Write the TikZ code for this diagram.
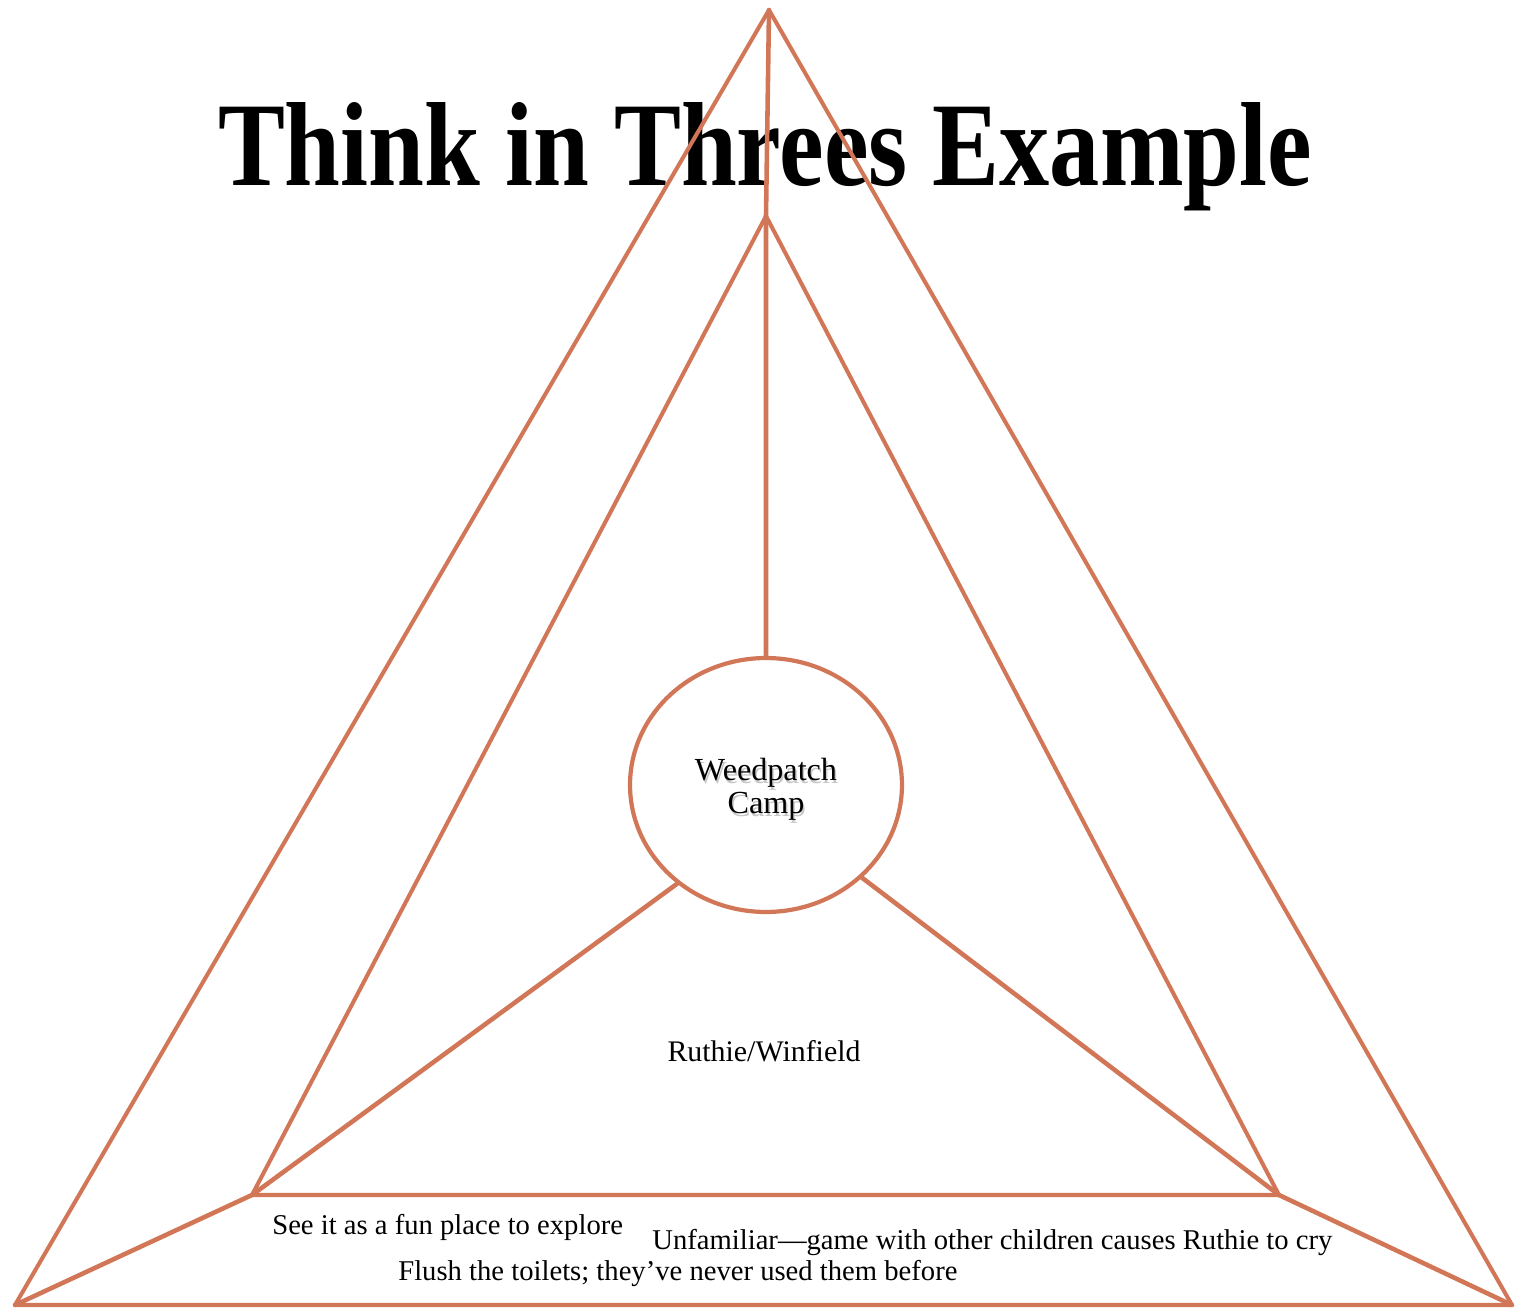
\documentclass[tikz,border=0pt]{standalone}
\usepackage{fontspec}
\setmainfont{Liberation Serif}
\usetikzlibrary{shapes.geometric}
\definecolor{mattone}{RGB}{210,118,88}

\begin{document}
\begin{tikzpicture}[
		x=0.02cm, y=-0.02cm,
		lato/.style={line width=2.3pt, line cap=round, line join=round, draw=mattone},
		raggio/.style={line width=2.6pt, line cap=round, line join=round, draw=mattone},
		centro/.style={ellipse, draw=mattone, line width=2.4pt,
			minimum width=5.44cm, minimum height=5.08cm, inner sep=0pt},
		titolo/.style={inner sep=0pt, anchor=base},
		etich/.style={font=\fontsize{17}{20}\selectfont, inner sep=0pt},
		nota/.style={font=\fontsize{16.3}{19}\selectfont, inner sep=0pt, anchor=west},
		campf/.style={font=\fontsize{18.3}{18.8}\selectfont, align=center},
		ombra/.style={campf, inner sep=0pt, text=black!22},
		]
		\useasboundingbox (0,0) rectangle (1519,1311);
		
		%% titolo (le aste passano sopra)
		\node[titolo] (tit) at (765,186)
		{\resizebox{21.88cm}{1.66cm}{\bfseries Think in Threes Example}};
		
		%% vertici dei due triangoli ----------------------------
		\coordinate (oT) at (769,10);
		\coordinate (oL) at (15,1305);
		\coordinate (oR) at (1512,1305);
		\coordinate (iT) at (766,216);
		\coordinate (iL) at (252,1195);
		\coordinate (iR) at (1279,1195);
		
		%% cerchio centrale
		\node[ombra] (ombraC) at (767.5,792) {Weedpatch\\Camp};
		\node[centro, campf] (camp) at (766,785) {};
		\node[campf, inner sep=0pt] (campT) at (766,789) {Weedpatch\\Camp};
		
		%% triangoli
		\draw[lato] (oT)--(oL)--(oR)--cycle;
		\draw[lato] (iT)--(iL)--(iR)--cycle;
		
		%% raggi: esterno -> interno -> cerchio
		\draw[raggio] (oT)--(iT)--(camp.north);
		\draw[raggio] (oL)--(iL)--(camp.228);
		\draw[raggio] (oR)--(iR)--(camp.316);
		
		%% etichette
		\node[etich] (ruth) at (764,1051) {Ruthie/Winfield};
		\node[nota] (esplora) at (272,1227) {See it as a fun place to explore};
		\node[nota] (pianto) at (652,1243) {Unfamiliar—game with other children causes Ruthie to cry};
		\node[nota] (bagno) at (398,1274) {Flush the toilets; they’ve never used them before};
		
\end{tikzpicture}
\end{document}
